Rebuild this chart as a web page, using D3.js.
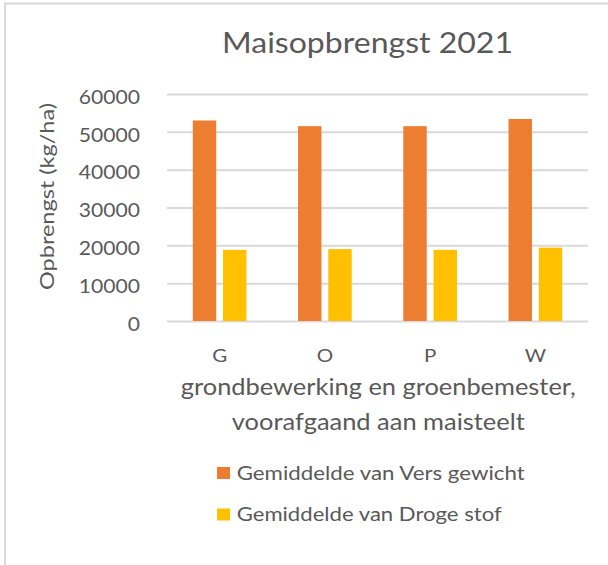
<!DOCTYPE html>
<html>
<head>
<meta charset="utf-8">
<script src="https://cdn.jsdelivr.net/npm/d3@7"></script>
<style>
  html, body { margin: 0; padding: 0; background: #fff; }
  svg text { font-family: Lato, "Open Sans", sans-serif; fill: #595959; }
</style>
</head>
<body>
<svg id="chart" width="608" height="565"></svg>
<script>
const categories = ['G', 'O', 'P', 'W'];
const seriesNames = ['Gemiddelde van Vers gewicht', 'Gemiddelde van Droge stof'];
const versGewicht = [53000, 51500, 51500, 53400];
const drogeStof = [18800, 19000, 18800, 19400];
const yTicks = [0, 10000, 20000, 30000, 40000, 50000, 60000];
const chartTitle = 'Maisopbrengst 2021';
const yTitle = 'Opbrengst (kg/ha)';
const xTitleLines = ['grondbewerking en groenbemester,', 'voorafgaand aan maisteelt'];

const colors = ['#ED7D31', '#FFC000'];
const series = [versGewicht, drogeStof];

const svg = d3.select('#chart');

// stretch text to a given width (Calibri substitute)
function fit(sel, width) {
  sel.attr('textLength', width).attr('lengthAdjust', 'spacingAndGlyphs');
}

// outer border (top + left visible)
svg.append('path')
  .attr('d', 'M5,565 V3.5 H608')
  .attr('fill', 'none')
  .attr('stroke', '#d9d9d9')
  .attr('stroke-width', 2);

const plotLeft = 167, plotRight = 588, plotTop = 94, plotBottom = 321;

const x = d3.scaleBand()
  .domain(categories)
  .range([plotLeft, plotRight])
  .paddingInner(0.49)
  .paddingOuter(0.245);

const xSub = d3.scaleBand()
  .domain(d3.range(series.length))
  .range([0, x.bandwidth()])
  .paddingInner(0.226);

const y = d3.scaleLinear()
  .domain([0, 60000])
  .range([plotBottom, plotTop]);

// y axis + gridlines
const yAxis = svg.append('g')
  .attr('transform', `translate(${plotLeft},0)`)
  .call(d3.axisLeft(y)
    .tickValues(yTicks)
    .tickFormat(d3.format('d'))
    .tickSize(-(plotRight - plotLeft))
    .tickPadding(27))
  ;
yAxis.select('.domain').remove();
yAxis.selectAll('.tick line')
  .attr('stroke', '#d9d9d9')
  .attr('stroke-width', 2);
yAxis.selectAll('.tick text')
  .attr('dy', null)
  .attr('y', 9.3)
  .style('font-size', '18.5px')
  .style('fill', '#595959')
  .each(function() {
    fit(d3.select(this), this.getComputedTextLength() * 1.14);
  });

// bars
const groups = svg.append('g')
  .selectAll('g')
  .data(categories)
  .join('g')
  .attr('transform', d => `translate(${x(d)},0)`);

groups.selectAll('rect')
  .data((d, i) => series.map((s, k) => ({ k: k, v: s[i] })))
  .join('rect')
  .attr('x', d => xSub(d.k))
  .attr('width', xSub.bandwidth())
  .attr('y', d => y(d.v))
  .attr('height', d => y(0) - y(d.v))
  .attr('fill', d => colors[d.k]);

// x axis
const xAxis = svg.append('g')
  .attr('transform', `translate(0,${plotBottom})`)
  .call(d3.axisBottom(x).tickSize(0))
  ;
xAxis.select('.domain').remove();
xAxis.selectAll('.tick text')
  .attr('dy', null)
  .attr('y', 40.7)
  .style('font-size', '18px')
  .style('fill', '#595959')
  .each(function() {
    fit(d3.select(this), this.getComputedTextLength() * 1.14);
  });

// title
svg.append('text')
  .attr('x', 367.5)
  .attr('y', 53)
  .attr('text-anchor', 'middle')
  .style('font-size', '28px')
  .text(chartTitle)
  .call(fit, 291);

// y axis title
svg.append('text')
  .attr('transform', 'translate(54,196.5) rotate(-90)')
  .attr('text-anchor', 'middle')
  .style('font-size', '19.5px')
  .text(yTitle)
  .call(fit, 187);

// x axis title
const xTitleY = [395, 430];
const xTitleW = [395, 293];
xTitleLines.forEach((line, i) => {
  svg.append('text')
    .attr('x', 378.3)
    .attr('y', xTitleY[i])
    .attr('text-anchor', 'middle')
    .style('font-size', '23px')
    .text(line)
    .call(fit, xTitleW[i]);
});

// legend
const legendY = [473, 514.5];
const legendW = [288, 265];
const legend = svg.append('g')
  .selectAll('g')
  .data(seriesNames)
  .join('g')
  .attr('transform', (d, i) => `translate(217,${legendY[i]})`);

legend.append('rect')
  .attr('x', 0)
  .attr('y', -6)
  .attr('width', 13)
  .attr('height', 12)
  .attr('fill', (d, i) => colors[i]);

legend.append('text')
  .attr('x', 19.7)
  .attr('y', 6.5)
  .style('font-size', '18.5px')
  .text(d => d)
  .each(function(d, i) { fit(d3.select(this), legendW[i]); });
</script>
</body>
</html>
